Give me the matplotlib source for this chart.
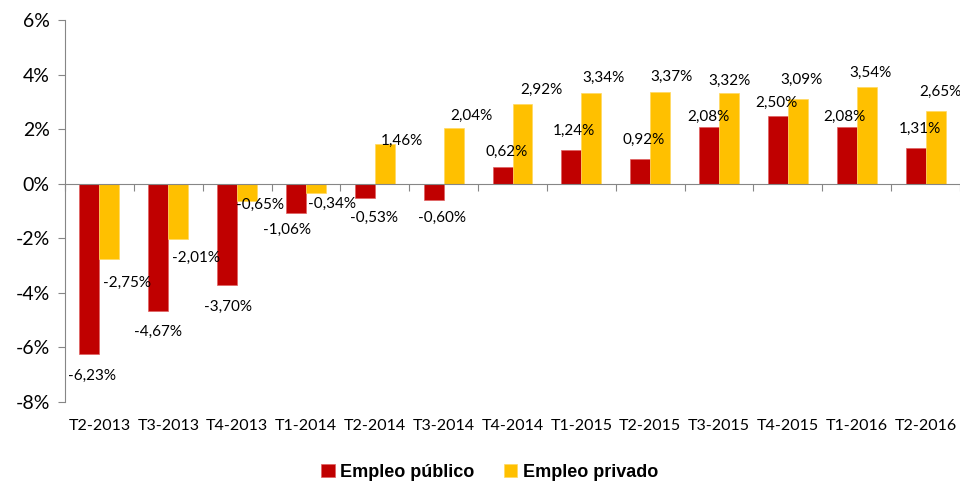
import matplotlib.pyplot as plt
import numpy as np

# Datos (variacion interanual del empleo)
trimestres = ['T2-2013', 'T3-2013', 'T4-2013', 'T1-2014', 'T2-2014', 'T3-2014', 'T4-2014',
              'T1-2015', 'T2-2015', 'T3-2015', 'T4-2015', 'T1-2016', 'T2-2016']
empleo_publico = [-6.23, -4.67, -3.70, -1.06, -0.53, -0.60, 0.62, 1.24, 0.92, 2.08, 2.50, 2.08, 1.31]
empleo_privado = [-2.75, -2.01, -0.65, -0.34, 1.46, 2.04, 2.92, 3.34, 3.37, 3.32, 3.09, 3.54, 2.65]

# desplazamiento de las etiquetas respecto al extremo de cada barra (pixeles)
dx_pub = [3, 0, 1, -9, 9, 8, 4, 3, 3, -1, -1, -2, 4]
dy_pub = [-22, -21, -22, -17, -20, -18, 15, 19, 19, 10, 13, 10, 19]
dx_priv = [18, 18, 13, 16, 17, 18, 19, 12, 11, 0, 4, 4, 5]
dy_priv = [-24, -19, -3, -11, 3, 12, 14, 15, 15, 12, 20, 14, 20]

rojo = '#C00000'
amarillo = '#FFC000'
gris = '#868686'
fuente = 'Lato'

fig = plt.figure(figsize=(9.6, 4.82), dpi=100)
ax = fig.add_axes([65 / 960, 80 / 482, 1 - 65 / 960, 382 / 482])

x = np.arange(len(trimestres))
ancho = 0.29
b1 = ax.bar(x - ancho / 2, empleo_publico, ancho, color=rojo, edgecolor='#E06060', linewidth=0.5,
            label='Empleo público')
b2 = ax.bar(x + ancho / 2, empleo_privado, ancho, color=amarillo, edgecolor='#FFD860', linewidth=0.5,
            label='Empleo privado')

def etiquetas(barras, valores, dxs, dys):
    for b, v, dx, dy in zip(barras, valores, dxs, dys):
        txt = f'{v:.2f}%'.replace('.', ',')
        ax.annotate(txt, (b.get_x() + b.get_width() / 2, v), xytext=(dx, dy),
                    textcoords='offset pixels', ha='center', va='center',
                    fontsize=11, family=fuente, color='black', annotation_clip=False)

etiquetas(b1, empleo_publico, dx_pub, dy_pub)
etiquetas(b2, empleo_privado, dx_priv, dy_priv)

ax.set_xlim(-0.5, len(trimestres) - 0.5)
ax.set_ylim(-8, 6)
ax.set_yticks(np.arange(-8, 7, 2))
ax.set_yticklabels([f'{t}%' for t in range(-8, 7, 2)], family=fuente, fontsize=14)
ax.tick_params(axis='y', direction='out', length=5, color=gris, pad=6)

# eje horizontal en el cero con marcas entre categorias
ax.spines['bottom'].set_position(('data', 0))
ax.spines['bottom'].set_color(gris)
ax.spines['left'].set_color(gris)
ax.spines['top'].set_visible(False)
ax.spines['right'].set_visible(False)
ax.set_xticks(np.arange(-0.5, len(trimestres), 1))
ax.tick_params(axis='x', direction='out', length=5, color=gris, labelbottom=False)

# etiquetas de categoria abajo
sec = ax.secondary_xaxis('bottom')
sec.set_xticks(x)
sec.set_xticklabels(trimestres, family=fuente, fontsize=11.5)
sec.tick_params(length=0, pad=12)
sec.spines['bottom'].set_visible(False)

fig.legend(handles=[b1, b2], loc='center', bbox_to_anchor=(0.51, 0.02), ncol=2, frameon=False,
           handlelength=0.75, handleheight=0.75, handletextpad=0.3, columnspacing=1.6,
           prop={'family': 'Liberation Sans', 'weight': 'bold', 'size': 13})

fig.savefig('out.png', dpi=100)
